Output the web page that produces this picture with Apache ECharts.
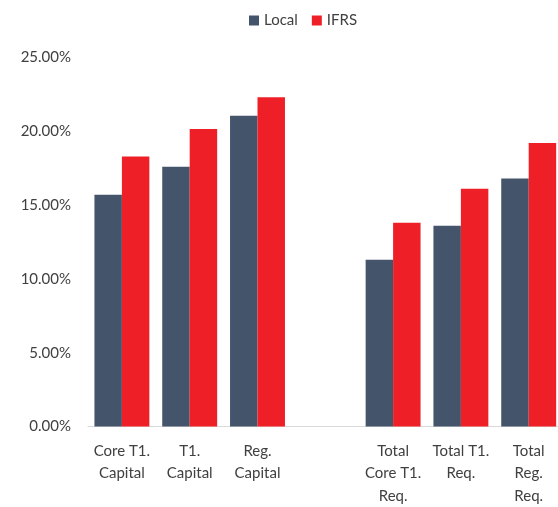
<!DOCTYPE html>
<html>
<head>
<meta charset="utf-8">
<script src="https://cdn.jsdelivr.net/npm/echarts@6/dist/echarts.min.js"></script>
<style>html,body{margin:0;padding:0;background:#fff;overflow:hidden}#c{width:563px;height:507px}</style>
</head>
<body>
<div id="c"></div>
<script>
var categories = ['Core T1.\nCapital', 'T1.\nCapital', 'Reg.\nCapital', '', 'Total\nCore T1.\nReq.', 'Total T1.\nReq.', 'Total\nReg.\nReq.'];
var localValues = [15.7, 17.6, 21.05, null, 11.3, 13.6, 16.8];
var ifrsValues = [18.3, 20.15, 22.3, null, 13.8, 16.1, 19.2];
var yTicks = [0, 5, 10, 15, 20, 25];

var chart = echarts.init(document.getElementById('c'), null, {renderer: 'canvas'});
var font = 'Lato, "Open Sans", sans-serif';
chart.setOption({
  animation: false,
  textStyle: {fontFamily: font},
  legend: {
    top: 8, left: 244,
    itemWidth: 10, itemHeight: 10, itemGap: 14,
    icon: 'rect',
    textStyle: {fontSize: 15, color: '#404040', fontFamily: font},
    data: ['Local', 'IFRS']
  },
  grid: {left: 88, right: 0.4, top: 57.5, bottom: 79.5, containLabel: false},
  xAxis: {
    type: 'category',
    data: categories,
    axisTick: {show: false},
    axisLine: {lineStyle: {color: '#d9d9d9', width: 1}},
    axisLabel: {interval: 0, fontSize: 15, color: '#404040', lineHeight: 22.5, margin: 13, fontFamily: font}
  },
  yAxis: {
    type: 'value',
    min: yTicks[0], max: yTicks[yTicks.length - 1], interval: 5,
    splitLine: {show: false},
    axisLine: {show: false},
    axisTick: {show: false},
    axisLabel: {fontSize: 15, color: '#404040', margin: 17, fontFamily: font,
      formatter: function (v) { return v.toFixed(2) + '%'; }}
  },
  series: [
    {name: 'Local', type: 'bar', data: localValues, barGap: '0%', barCategoryGap: '19%',
     itemStyle: {color: '#44546a'}},
    {name: 'IFRS', type: 'bar', data: ifrsValues, barGap: '0%', barCategoryGap: '19%',
     itemStyle: {color: '#ee1f26'}}
  ]
});
</script>
</body>
</html>
